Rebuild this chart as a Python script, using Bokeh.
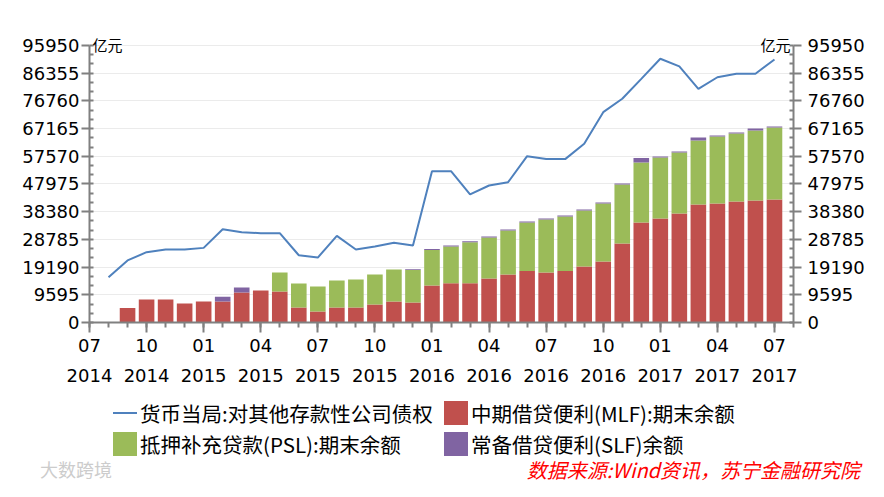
import pandas as pd

from bokeh.plotting import figure
from bokeh.models import Range1d, LinearAxis, FixedTicker, Label, ColumnDataSource, Div
from bokeh.layouts import column
from bokeh.embed import file_html
from bokeh.resources import INLINE

#month-end dates, 2014-07 .. 2017-06
months = [p.strftime("%Y-%m") for p in pd.period_range("2014-07", "2017-06", freq="M")]

#货币当局:对其他存款性公司债权 (亿元)
claims = [15700, 21500, 24350, 25300, 25300, 25850, 32300, 31300, 30950, 30950,
          23300, 22500, 30000, 25300, 26300, 27600, 26700, 52400, 52400, 44350,
          47450, 48600, 57600, 56600, 56600, 61900, 72850, 77500, 84400, 91350,
          88700, 80950, 84950, 86150, 86150, 91100]

#bars start one month later (2014-08)
mlf = [5000, 7950, 7950, 6550, 7250, 7250, 10400, 11100, 10750, 5200,
       3800, 5200, 5200, 6250, 7250, 6950, 12800, 13600, 13600, 15250,
       16600, 17800, 17300, 17800, 19400, 21150, 27350, 34650, 36000, 37750,
       40850, 41200, 41900, 42250, 42600]
psl = [0, 0, 0, 0, 0, 0, 0, 0, 6600, 8300,
       8650, 9350, 9700, 10400, 11100, 11200, 12350, 12700, 14200, 14200,
       15250, 16850, 18350, 18950, 19400, 20100, 20450, 20800, 21150, 21150,
       22150, 23200, 23550, 24250, 24950]
slf = [0, 0, 0, 0, 0, 1700, 1700, 0, 0, 0,
       0, 0, 0, 0, 0, 300, 300, 350, 350, 350,
       350, 350, 350, 350, 350, 350, 350, 1500, 350, 350,
       1050, 350, 350, 700, 350]

#axis ticks
y_ticks = [0, 9595, 19190, 28785, 38380, 47975, 57570, 67165, 76760, 86355, 95950]
tick_months = ["07", "10", "01", "04", "07", "10", "01", "04", "07", "10", "01", "04", "07"]
tick_years = ["2014", "2014", "2015", "2015", "2015", "2015", "2016", "2016", "2016", "2016", "2017", "2017", "2017"]

series_names = ["货币当局:对其他存款性公司债权", "中期借贷便利(MLF):期末余额",
                "抵押补充贷款(PSL):期末余额", "常备借贷便利(SLF)余额"]
source_note = "数据来源:Wind资讯，苏宁金融研究院"

line_color = "#4F81BD"
bar_colors = ["#C0504D", "#9BBB59", "#8064A2"]
num_font = "DejaVu Sans"
cjk_font = "Noto Sans CJK SC"

#x position: months since the "07 2014" tick, data sits at month end
line_x = [i + 1 for i in range(len(months))]
line_src = ColumnDataSource(dict(x=line_x, y=claims))
bar_src = ColumnDataSource(dict(x=line_x[1:], mlf=mlf, psl=psl, slf=slf))

#a little head room above the top tick so the unit labels are not clipped
y_top = y_ticks[-1] * 1.0361

p = figure(width=868, height=398, x_range=Range1d(0, 37), y_range=Range1d(0, y_top),
           output_backend="svg", toolbar_location=None, tools="",
           min_border_left=89, min_border_right=75, min_border_top=35, min_border_bottom=76)
p.outline_line_color = None
p.xgrid.grid_line_color = None
p.ygrid.grid_line_color = "#ebebeb"
p.ygrid.ticker = FixedTicker(ticks=y_ticks)

bars = p.vbar_stack(["mlf", "psl", "slf"], x="x", width=0.82, color=bar_colors,
                    line_color=None, source=bar_src)
line = p.line("x", "y", source=line_src, line_color=line_color, line_width=2)

x_major = [3 * i for i in range(len(tick_months))]
x_minor = list(range(0, 38))
y_minor = [y_ticks[1] * k / 3 for k in range(0, 31)]

def style_axis(ax):
    ax.axis_line_color = "#808080"
    ax.axis_line_width = 2
    ax.major_tick_line_color = "#808080"
    ax.major_tick_line_width = 2
    ax.minor_tick_line_color = "#808080"
    ax.minor_tick_line_width = 2
    ax.major_label_text_font = num_font
    ax.major_label_text_font_size = "18px"
    ax.major_label_text_color = "black"

#month labels
xax = p.xaxis[0]
xax.ticker = FixedTicker(ticks=x_major, minor_ticks=x_minor)
xax.major_label_overrides = {x_major[i]: tick_months[i] for i in range(len(x_major))}
style_axis(xax)
xax.major_tick_out = 10
xax.major_tick_in = 0
xax.minor_tick_out = 5
xax.minor_tick_in = 0
xax.major_label_standoff = 6

#year labels on a second axis
yr_ax = LinearAxis(ticker=FixedTicker(ticks=x_major, minor_ticks=[]),
                   major_label_overrides={x_major[i]: tick_years[i] for i in range(len(x_major))})
style_axis(yr_ax)
yr_ax.axis_line_color = None
yr_ax.major_tick_line_color = None
yr_ax.major_tick_out = 0
yr_ax.major_label_standoff = 14
p.add_layout(yr_ax, "below")

#left and right value axes
yax = p.yaxis[0]
yax.ticker = FixedTicker(ticks=y_ticks, minor_ticks=y_minor)
yax.major_label_overrides = {t: str(t) for t in y_ticks}
yax.bounds = (0, y_ticks[-1])
style_axis(yax)
yax.major_tick_out = 8
yax.major_tick_in = 0
yax.minor_tick_out = 0
yax.minor_tick_in = 4
yax.major_label_standoff = 2

rax = LinearAxis(ticker=FixedTicker(ticks=y_ticks, minor_ticks=y_minor),
                 major_label_overrides={t: str(t) for t in y_ticks}, bounds=(0, y_ticks[-1]))
style_axis(rax)
rax.major_tick_out = 8
rax.major_tick_in = 0
rax.minor_tick_out = 0
rax.minor_tick_in = 4
rax.major_label_standoff = 6
p.add_layout(rax, "right")

#unit labels
p.add_layout(Label(x=0, y=y_ticks[-1], text="亿元", x_offset=3, y_offset=1, text_baseline="middle",
                   text_font=cjk_font, text_font_size="15px", text_color="black"))
p.add_layout(Label(x=37, y=y_ticks[-1], text="亿元", x_offset=-3, y_offset=1, text_align="right",
                   text_baseline="middle", text_font=cjk_font, text_font_size="15px", text_color="black"))

#strip under the chart: legend (2 x 2), source note, watermark
def key(left, top, swatch, label):
    if swatch == "line":
        mark = (f'<div style="position:absolute;left:{left}px;top:{top + 11}px;width:24px;'
                f'height:0;border-top:2px solid {line_color};"></div>')
    else:
        mark = (f'<div style="position:absolute;left:{left}px;top:{top}px;width:24px;'
                f'height:24px;background:{swatch};"></div>')
    text = (f'<div style="position:absolute;left:{left + 27}px;top:{top}px;line-height:24px;'
            f'white-space:nowrap;">{label}</div>')
    return mark + text

foot_html = (
    f'<div style="position:relative;width:868px;height:83px;font-family:\'{cjk_font}\';'
    f'font-size:20.5px;color:black;">'
    + key(113, 3, "line", series_names[0])
    + key(444, 3, bar_colors[0], series_names[1])
    + key(113, 34, bar_colors[1], series_names[2])
    + key(444, 34, bar_colors[2], series_names[3])
    + f'<div style="position:absolute;right:8px;top:61px;line-height:21px;white-space:nowrap;'
      f'color:red;font-style:italic;font-size:20px;">{source_note}</div>'
    + '<div style="position:absolute;left:40px;top:61px;line-height:21px;white-space:nowrap;'
      'color:#cccccc;font-size:18px;">大数跨境</div>'
    + '</div>'
)
foot = Div(text=foot_html, width=868, height=83, margin=0)

open("out.html", "w").write(file_html(column(p, foot, spacing=0), INLINE))
